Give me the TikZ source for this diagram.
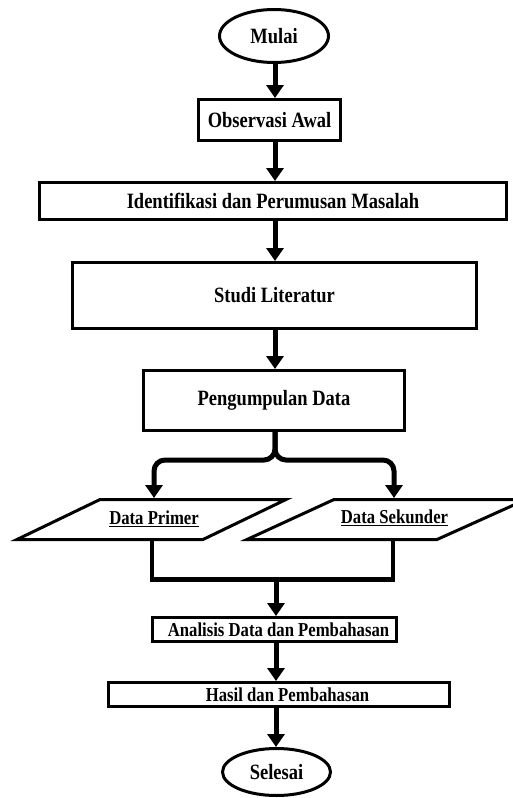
\documentclass[tikz,border=0pt]{standalone}
\usepackage{fontspec}
\setmainfont{Liberation Serif}
\usetikzlibrary{arrows.meta,shapes.geometric}
\newcommand{\tallt}[1]{\scalebox{1}[1.18]{#1}}
\begin{document}
\begin{tikzpicture}[x=1pt,y=-1pt,
  bigtxt/.style={font=\bfseries\fontsize{18.5}{22}\selectfont},
  smalltxt/.style={font=\bfseries\fontsize{16.7}{20}\selectfont},
  procbox/.style={draw, line width=3pt, rectangle, inner sep=0pt, fill=white},
  termbox/.style={draw, line width=3pt, ellipse, inner sep=0pt, fill=white},
  iobox/.style={draw, line width=3pt, line join=miter},
  joinline/.style={line width=4.5pt},
  arr/.style={line width=5pt, -{Triangle[width=17pt,length=13pt]}}]
\useasboundingbox (0,0) rectangle (512,798);
\coordinate (axis) at (275,0);
% nodes
\node[termbox, bigtxt, minimum width=109pt, minimum height=53pt] (mulai) at (274,36) {\tallt{Mulai}};
\node[procbox, bigtxt, minimum width=142pt, minimum height=41pt] (obs) at (269.5,120) {\tallt{Observasi Awal}};
\node[procbox, bigtxt, minimum width=467pt, minimum height=37pt] (ident) at (273,201) {\tallt{Identifikasi dan Perumusan Masalah}};
\node[procbox, bigtxt, minimum width=404pt, minimum height=66pt] (studi) at (274.5,295.5) {\tallt{Studi Literatur}};
\node[procbox, bigtxt, minimum width=261pt, minimum height=60pt] (peng) at (274,400.5) {\tallt{Pengumpulan Data}};
% parallelograms
\draw[iobox] (100,499.5) -- (286,499.5) -- (203,539.5) -- (17,539.5) -- cycle;
\draw[iobox] (334,499.5) -- (526,499.5) -- (437,539.5) -- (247,539.5) -- cycle;
\node[smalltxt, inner sep=0pt] (dp) at (154,519) {\tallt{\underline{Data Primer}}};
\node[smalltxt, inner sep=0pt] (ds) at (394.5,518) {\tallt{\underline{Data Sekunder}}};
\coordinate (p1top) at (154,498);
\coordinate (p2top) at (394,498);
\coordinate (p1bot) at (152,541);
\coordinate (p2bot) at (393,541);
\coordinate (split) at (275,460);
\coordinate (join) at (276,579.5);
\node[procbox, smalltxt, minimum width=244pt, minimum height=24pt] (anal) at (274.5,629.5) {\hspace*{8pt}\tallt{Analisis Data dan Pembahasan}};
\node[procbox, smalltxt, minimum width=341pt, minimum height=24pt] (hasil) at (279,694.5) {\hspace*{17pt}\tallt{Hasil dan Pembahasan}};
\node[termbox, bigtxt, minimum width=108pt, minimum height=47pt] (selesai) at (276.5,772) {\tallt{Selesai}};
% connectors
\draw[arr] (axis |- mulai.south) -- (axis |- obs.north);
\draw[arr] (axis |- obs.south) -- (axis |- ident.north);
\draw[arr] (axis |- ident.south) -- (axis |- studi.north);
\draw[arr] (axis |- studi.south) -- (axis |- peng.north);
\draw[arr, rounded corners=11pt] (axis |- peng.south) -- (split) -| (p1top);
\draw[arr, rounded corners=11pt] (axis |- peng.south) -- (split) -| (p2top);
\draw[joinline, line join=miter] (p1bot) |- (join) -| (p2bot);
\draw[arr] (join) -- (join |- anal.north);
\draw[arr] (join |- anal.south) -- (join |- hasil.north);
\draw[arr] (join |- hasil.south) -- (join |- selesai.north);
\end{tikzpicture}
\end{document}
